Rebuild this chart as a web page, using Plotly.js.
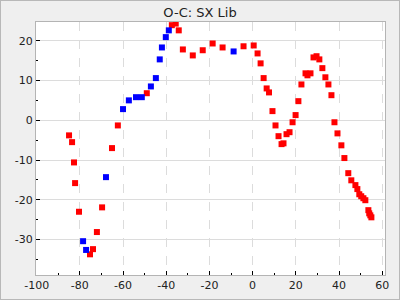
<!DOCTYPE html>
<html>
<head>
<meta charset="utf-8">
<script src="https://cdn.plot.ly/plotly-3.0.1.min.js"></script>
<style>
html,body{margin:0;padding:0;background:#efefef;}
#chart{width:398px;height:298px;border:1px solid #b8b8b8;}
</style>
</head>
<body>
<div id="chart"></div>
<script>
const redX = [-85.0,-83.6,-82.7,-82.2,-80.4,-72.1,-73.9,-75.3,-69.7,-65.1,-62.4,-49.0,-37.4,-35.6,-34.2,-32.3,-27.7,-23.1,-18.5,-13.9,-4.2,0.5,2.3,3.7,5.1,6.5,7.6,9.2,10.6,12.0,13.4,14.3,15.7,17.1,18.5,19.9,21.2,22.6,24.5,25.4,26.8,28.2,29.6,30.9,32.3,33.7,35.1,36.5,37.9,39.3,41.1,42.5,44.3,45.7,47.6,48.5,49.4,50.3,51.3,52.2,53.6,54.0,54.5,55.0];
const redY = [-3.8,-5.5,-10.6,-15.8,-23.0,-28.1,-32.4,-33.7,-21.9,-7.0,-1.3,6.8,23.9,24.3,22.6,17.8,16.3,17.6,19.3,18.3,18.6,18.8,16.8,14.3,10.6,8.0,7.0,2.3,-1.3,-4.0,-6.0,-5.8,-3.5,-3.0,-0.5,1.3,4.8,9.0,11.8,11.3,11.8,15.8,16.1,15.3,13.1,10.8,9.0,6.3,-0.5,-3.3,-6.3,-9.5,-13.3,-15.1,-16.3,-17.3,-18.6,-19.1,-19.6,-20.1,-22.6,-23.4,-23.9,-24.4];
const blueX = [-78.5,-77.1,-67.9,-60.0,-57.3,-54.0,-51.3,-47.1,-44.8,-43.0,-42.0,-40.2,-38.8,-8.8];
const blueY = [-30.4,-32.6,-14.3,2.8,5.0,5.8,5.8,8.5,10.6,15.3,18.3,20.9,22.6,17.3];
const xTickVals = [-100,-80,-60,-40,-20,0,20,40,60];
const xTickText = ["-100","-80","-60","-40","-20","0","20","40","60"];
const yTickVals = [-30,-20,-10,0,10,20];
const yTickText = ["-30","-20","-10","0","10","20"];

const marker = (c) => ({symbol:'square', size:6, color:c, line:{width:0}});
const data = [
  {x:redX, y:redY, type:'scatter', mode:'markers', marker:marker('#ff0000'), hoverinfo:'none'},
  {x:blueX, y:blueY, type:'scatter', mode:'markers', marker:marker('#0000ff'), hoverinfo:'none'}
];
const axisCommon = {
  ticks:'inside', ticklen:4, tickcolor:'#000', tickwidth:1,
  showline:true, mirror:true, linecolor:'#b4b4b4', linewidth:1,
  zeroline:false, gridcolor:'#dcdcdc', gridwidth:1,
  tickfont:{family:'DejaVu Sans', size:11, color:'#222'}
};
const layout = {
  width:398, height:298,
  margin:{l:35, r:14, t:21, b:24},
  paper_bgcolor:'#efefef', plot_bgcolor:'#ffffff',
  showlegend:false,
  title:{text:'O-C: SX Lib', font:{family:'DejaVu Sans', size:13, color:'#222'}, x:0.5, xanchor:'center', y:0.963, yanchor:'middle', yref:'container'},
  xaxis:Object.assign({}, axisCommon, {
    range:[-100.3, 61.3], tickvals:xTickVals, ticktext:xTickText, griddash:'dash',
    minor:{dtick:10, tick0:0, ticks:'inside', ticklen:2, tickcolor:'#000', showgrid:false}
  }),
  yaxis:Object.assign({}, axisCommon, {
    range:[-38.9, 24.7], tickvals:yTickVals, ticktext:yTickText,
    minor:{dtick:5, tick0:0, ticks:'inside', ticklen:2, tickcolor:'#000', showgrid:false}
  })
};
Plotly.newPlot('chart', data, layout, {staticPlot:true});
</script>
</body>
</html>
